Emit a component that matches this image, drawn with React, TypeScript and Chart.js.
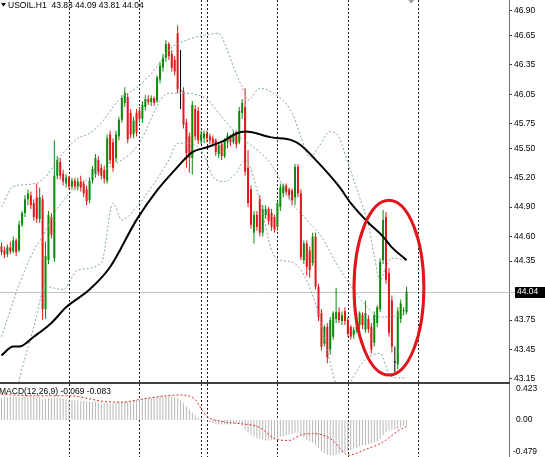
import React, { useEffect, useRef } from "react";
import { Chart, registerables } from "chart.js";

Chart.register(...registerables);

// ---------------- data ----------------
const symbol = "USOIL.H1";

const opens = [
  44.50, 44.46, 44.42, 44.49, 44.45, 44.56, 44.46, 44.72, 44.84, 44.98,
  45.02, 44.94, 45.00, 44.78, 44.98, 43.86, 44.36, 44.80, 44.38, 45.22,
  45.36, 45.24, 45.14, 45.20, 45.11, 45.17, 45.11, 45.16, 45.14, 45.08,
  44.97, 45.17, 45.24, 45.38, 45.30, 45.28, 45.17, 45.64, 45.56, 45.40,
  45.62, 45.79, 45.96, 46.02, 45.86, 45.64, 45.86, 45.88, 45.80, 45.92,
  46.00, 45.97, 46.01, 45.98, 46.20, 46.32, 46.42, 46.56, 46.46, 46.40,
  46.67, 46.08, 46.08, 45.76, 45.62, 45.40, 45.90, 45.88, 45.58, 45.60,
  45.65, 45.62, 45.60, 45.58, 45.44, 45.54, 45.42, 45.56, 45.62, 45.56,
  45.66, 45.56, 45.86, 45.92, 45.30, 45.08, 44.64, 44.82, 44.98, 44.64,
  44.82, 44.88, 44.84, 44.80, 44.70, 44.90, 45.04, 45.12, 45.08, 45.07,
  45.00, 45.31, 45.04, 44.36, 44.53, 44.46, 44.33, 44.60, 44.09, 43.82,
  43.51, 43.68, 43.45, 43.58, 43.76, 43.83, 43.74, 43.84, 43.75, 43.68,
  43.60, 43.65, 43.70, 43.80, 43.65, 43.76, 43.68, 43.52, 43.72, 43.86,
  44.36, 44.80, 44.23, 43.95, 43.32, 43.30, 43.76, 43.84, 43.83,
];
const highs = [
  44.54, 44.50, 44.52, 44.55, 44.60, 44.58, 44.76, 44.86, 45.02, 45.08,
  45.06, 44.98, 45.14, 45.10, 45.02, 44.55, 44.86, 44.84, 45.58, 45.42,
  45.40, 45.28, 45.24, 45.22, 45.20, 45.20, 45.20, 45.22, 45.17, 45.12,
  45.20, 45.32, 45.44, 45.42, 45.34, 45.32, 45.64, 45.68, 45.60, 45.68,
  45.82, 46.04, 46.12, 46.06, 45.90, 45.82, 45.90, 45.92, 45.98, 46.04,
  46.04, 46.04, 46.03, 46.24, 46.38, 46.46, 46.60, 46.58, 46.50, 46.44,
  46.75, 46.50, 46.12, 45.80, 45.66, 45.98, 45.94, 45.92, 45.68, 45.68,
  45.68, 45.65, 45.63, 45.60, 45.56, 45.56, 45.60, 45.66, 45.64, 45.68,
  45.68, 45.92, 46.00, 46.11, 45.48, 45.12, 44.86, 44.86, 45.02, 44.92,
  44.92, 44.90, 44.88, 44.82, 44.96, 45.14, 45.14, 45.14, 45.10, 45.09,
  45.34, 45.34, 45.08, 44.56, 44.56, 44.50, 44.64, 44.64, 44.12, 43.86,
  43.70, 43.72, 43.78, 43.84, 44.08, 43.88, 43.84, 43.88, 43.78, 43.70,
  43.68, 43.78, 43.84, 43.83, 43.95, 43.80, 43.72, 43.84, 43.90, 44.38,
  44.87, 44.85, 44.28, 44.00, 43.48, 43.88, 43.96, 43.88, 44.09,
];
const lows = [
  44.41, 44.38, 44.39, 44.42, 44.43, 44.40, 44.44, 44.70, 44.80, 44.92,
  44.88, 44.76, 44.74, 44.74, 43.75, 43.76, 44.32, 44.58, 44.34, 45.18,
  45.18, 45.12, 45.10, 45.08, 45.08, 45.08, 45.07, 45.06, 45.00, 44.92,
  44.94, 45.14, 45.20, 45.22, 45.18, 45.14, 45.14, 45.34, 45.26, 45.36,
  45.58, 45.76, 45.92, 45.55, 45.60, 45.60, 45.62, 45.76, 45.76, 45.88,
  45.94, 45.93, 45.93, 45.96, 46.16, 46.28, 46.38, 46.40, 46.28, 46.24,
  46.06, 45.90, 45.70, 45.30, 45.25, 45.23, 45.58, 45.54, 45.54, 45.55,
  45.56, 45.54, 45.52, 45.42, 45.40, 45.38, 45.40, 45.50, 45.52, 45.54,
  45.50, 45.54, 45.80, 45.22, 44.90, 44.68, 44.53, 44.66, 44.60, 44.60,
  44.78, 44.72, 44.66, 44.64, 44.66, 44.86, 45.00, 45.02, 44.98, 44.92,
  44.92, 45.00, 44.36, 44.32, 44.20, 44.18, 44.30, 44.06, 43.74, 43.44,
  43.48, 43.31, 43.40, 43.55, 43.72, 43.72, 43.70, 43.70, 43.58, 43.55,
  43.56, 43.62, 43.66, 43.66, 43.62, 43.62, 43.41, 43.48, 43.68, 43.83,
  44.32, 44.12, 43.58, 43.42, 43.22, 43.25, 43.72, 43.80, 43.81,
];
const closes = [
  44.44, 44.42, 44.49, 44.45, 44.56, 44.44, 44.72, 44.84, 44.98, 45.04,
  44.92, 44.80, 44.78, 45.00, 43.86, 44.40, 44.82, 44.62, 45.22, 45.38,
  45.22, 45.16, 45.20, 45.11, 45.17, 45.11, 45.16, 45.10, 45.04, 44.96,
  45.17, 45.29, 45.40, 45.26, 45.22, 45.19, 45.60, 45.38, 45.30, 45.64,
  45.79, 46.01, 46.06, 45.59, 45.64, 45.78, 45.66, 45.80, 45.94, 46.00,
  45.97, 46.01, 45.96, 46.22, 46.34, 46.42, 46.56, 46.44, 46.32, 46.28,
  46.10, 46.08, 45.74, 45.45, 45.40, 45.94, 45.62, 45.58, 45.64, 45.65,
  45.60, 45.58, 45.55, 45.46, 45.53, 45.42, 45.58, 45.63, 45.56, 45.65,
  45.54, 45.88, 45.96, 45.26, 44.94, 44.72, 44.82, 44.70, 44.64, 44.88,
  44.88, 44.76, 44.70, 44.67, 44.94, 45.10, 45.12, 45.05, 45.02, 44.97,
  45.31, 45.04, 44.39, 44.53, 44.29, 44.26, 44.60, 44.09, 43.78, 43.48,
  43.68, 43.37, 43.75, 43.82, 43.83, 43.75, 43.80, 43.74, 43.61, 43.58,
  43.65, 43.75, 43.82, 43.70, 43.82, 43.66, 43.45, 43.80, 43.88, 44.34,
  44.77, 44.16, 43.62, 43.48, 43.32, 43.84, 43.92, 43.85, 44.04,
];

// moving average (thick black line), sampled at bar indices
const maBars = [0, 4, 6, 11, 17, 22, 30, 37, 46, 53, 60, 65, 70, 76, 80, 83, 92, 99, 102, 108, 115, 119, 125, 130, 133, 138];
const maValues = [43.39, 43.48, 43.48, 43.58, 43.72, 43.88, 44.06, 44.29, 44.77, 45.07, 45.31, 45.46, 45.51, 45.58, 45.65, 45.67, 45.61, 45.58, 45.53, 45.35, 45.11, 44.94, 44.74, 44.6, 44.49, 44.36];

// Bollinger bands (dashed lines)
const bbUpperBars = [0, 4, 9, 14, 21, 26, 30, 34, 40, 47, 53, 57, 63, 69, 74, 76, 79, 82, 84, 88, 92, 99, 102, 105, 108, 112, 115, 118, 122, 125, 127, 129, 131, 133, 138];
const bbUpperValues = [44.9, 45.11, 45.13, 45.18, 45.45, 45.6, 45.65, 45.76, 45.99, 46.14, 46.33, 46.5, 46.6, 46.65, 46.67, 46.57, 46.33, 46.12, 45.99, 46.11, 46.07, 45.86, 45.61, 45.41, 45.51, 45.67, 45.61, 45.35, 45.0, 44.72, 44.4, 44.15, 44.3, 44.38, 44.36];
const bbMidBars = [0, 6, 11, 14, 18, 22, 29, 37, 46, 57, 60, 69, 75, 80, 92, 99, 103, 109, 114, 119, 124, 129, 134, 138];
const bbMidValues = [43.58, 44.11, 44.46, 44.6, 44.84, 45.0, 45.18, 45.31, 45.51, 46.06, 46.06, 46.02, 45.82, 45.65, 45.33, 44.94, 44.8, 44.6, 44.33, 44.1, 43.9, 43.78, 43.79, 43.82];
const bbLowerBars = [0, 6, 11, 15, 21, 26, 34, 38, 41, 46, 57, 60, 64, 69, 72, 76, 80, 83, 88, 92, 95, 99, 103, 108, 112, 114, 116, 120, 124, 129, 132, 135, 138];
const bbLowerValues = [42.4, 43.14, 43.68, 44.09, 44.06, 44.26, 44.33, 44.94, 44.77, 44.9, 45.38, 45.55, 45.55, 45.43, 45.21, 45.16, 45.25, 45.38, 44.97, 44.46, 44.36, 44.34, 44.21, 43.82, 43.31, 43.09, 42.95, 43.18, 43.35, 43.41, 43.2, 43.16, 43.16];

// MACD histogram (one value per bar) and signal line
const macdValues = [
  0.29, 0.30, 0.30, 0.31, 0.31, 0.30, 0.30, 0.31, 0.31, 0.32,
  0.32, 0.31, 0.31, 0.30, 0.27, 0.28, 0.29, 0.29, 0.30, 0.30,
  0.29, 0.28, 0.27, 0.27, 0.26, 0.26, 0.26, 0.25, 0.25, 0.24,
  0.24, 0.24, 0.24, 0.23, 0.23, 0.22, 0.23, 0.22, 0.22, 0.23,
  0.24, 0.24, 0.25, 0.24, 0.24, 0.25, 0.26, 0.27, 0.28, 0.29,
  0.29, 0.29, 0.30, 0.30, 0.31, 0.31, 0.32, 0.32, 0.31, 0.30,
  0.29, 0.26, 0.22, 0.18, 0.14, 0.10, 0.07, 0.04, 0.02, -0.01,
  -0.02, -0.03, -0.04, -0.05, -0.06, -0.06, -0.06, -0.06, -0.06, -0.05,
  -0.05, -0.05, -0.08, -0.13, -0.17, -0.20, -0.22, -0.24, -0.25, -0.26,
  -0.27, -0.27, -0.27, -0.26, -0.24, -0.22, -0.21, -0.20, -0.19, -0.18,
  -0.17, -0.17, -0.20, -0.23, -0.26, -0.28, -0.30, -0.33, -0.37, -0.41,
  -0.44, -0.46, -0.47, -0.47, -0.46, -0.45, -0.44, -0.43, -0.42, -0.40,
  -0.38, -0.37, -0.35, -0.34, -0.33, -0.32, -0.31, -0.30, -0.28, -0.25,
  -0.20, -0.16, -0.14, -0.13, -0.13, -0.12, -0.10, -0.08, -0.069,
];
const signalBars = [0, 11, 23, 35, 41, 47, 56, 61, 66, 68, 70, 76, 82, 88, 93, 98, 102, 106, 112, 117, 118, 124, 130, 135, 138];
const signalValues = [0.34, 0.32, 0.32, 0.245, 0.235, 0.27, 0.32, 0.33, 0.27, 0.15, 0.05, -0.025, -0.05, -0.1, -0.245, -0.27, -0.196, -0.18, -0.245, -0.44, -0.465, -0.39, -0.29, -0.147, -0.083];
const macdName = "MACD(12,26,9)";

// axis ticks and markers
const priceTicks = [46.9, 46.65, 46.35, 46.05, 45.75, 45.5, 45.2, 44.9, 44.6, 44.35, 43.75, 43.45, 43.15];
const macdTicks = [0.423, 0, -0.479];
const separatorBars = [23, 47, 68, 70, 94, 118, 142];
const highlight = { bar: 132, price: 44.08, barRadius: 11.9, priceRadius: 0.89 };
const shiftMarkerBar = 139.6;

// ---------------- layout / style ----------------
const W = 545;
const MAIN_H = 384;
const MACD_H = 73;
const AXIS_W = 36;
const X_MIN = -0.511;
const X_MAX = 172.9;
const P_MIN = 43.0987;
const P_MAX = 47.009;
const M_MIN = -0.4888;
const M_MAX = 0.4756;
const FONT = '"Liberation Sans", Arial, sans-serif';
const FONT_SIZE = 8.5;
const BULL = "#0b8a0b";
const BEAR = "#e3161b";
const DOJI = "#000000";
const BAND = "#7fa89c";

const idx = opens.map((_, i) => i);
const candleColor = (i: number) => (closes[i] > opens[i] ? BULL : closes[i] < opens[i] ? BEAR : DOJI);
const pts = (bars: number[], vals: number[]) => bars.map((b, k) => ({ x: b, y: vals[k] }));

const fitAxis = (scale: any) => {
  scale.width = AXIS_W;
  scale.paddingTop = 0;
  scale.paddingBottom = 0;
};

const drawSeparators = (chart: any) => {
  const { ctx, chartArea: a, scales } = chart;
  ctx.save();
  ctx.strokeStyle = "#222";
  ctx.lineWidth = 1;
  ctx.setLineDash([2, 2]);
  separatorBars.forEach((b) => {
    const px = Math.round(scales.x.getPixelForValue(b)) + 0.5;
    if (px > a.right) return;
    ctx.beginPath();
    ctx.moveTo(px, a.top);
    ctx.lineTo(px, a.bottom);
    ctx.stroke();
  });
  ctx.restore();
};

const mainDecor = {
  id: "mainDecor",
  beforeDatasetsDraw(chart: any) {
    const { ctx, chartArea: a, scales } = chart;
    const n = closes.length - 1;
    ctx.save();
    const py = Math.round(scales.y.getPixelForValue(closes[n])) + 0.5;
    ctx.strokeStyle = "#c4c4c4";
    ctx.lineWidth = 1;
    ctx.beginPath();
    ctx.moveTo(a.left, py);
    ctx.lineTo(a.right + 6, py);
    ctx.stroke();
    ctx.restore();
    drawSeparators(chart);
  },
  afterDraw(chart: any) {
    const { ctx, chartArea: a, scales } = chart;
    const { x, y } = scales;
    const n = closes.length - 1;
    ctx.save();
    // highlight ellipse
    const cx = x.getPixelForValue(highlight.bar);
    const cy = y.getPixelForValue(highlight.price);
    const rx = x.getPixelForValue(highlight.bar + highlight.barRadius) - cx;
    const ry = y.getPixelForValue(highlight.price - highlight.priceRadius) - cy;
    ctx.strokeStyle = "#e0161c";
    ctx.lineWidth = 3;
    ctx.beginPath();
    ctx.ellipse(cx, cy, rx, ry, 0, 0, Math.PI * 2);
    ctx.stroke();
    // title
    ctx.fillStyle = "#000";
    ctx.beginPath();
    ctx.moveTo(1, 3);
    ctx.lineTo(6, 3);
    ctx.lineTo(3.5, 6.5);
    ctx.closePath();
    ctx.fill();
    ctx.font = `${FONT_SIZE}px ${FONT}`;
    ctx.textBaseline = "middle";
    ctx.textAlign = "left";
    const f = (v: number) => v.toFixed(2);
    ctx.fillText(`${symbol}  ${f(opens[n])} ${f(highs[n])} ${f(lows[n])} ${f(closes[n])}`, 8, 5.5);
    // current price label
    const py = y.getPixelForValue(closes[n]);
    ctx.fillStyle = "#000";
    ctx.fillRect(a.right + 6, Math.round(py) - 5, W - a.right - 6, 11);
    ctx.fillStyle = "#fff";
    ctx.fillText(f(closes[n]), a.right + 8, py + 0.5);
    // shift marker
    const sx = x.getPixelForValue(shiftMarkerBar);
    ctx.fillStyle = "#9a9a9a";
    ctx.beginPath();
    ctx.moveTo(sx - 3, 0);
    ctx.lineTo(sx + 3, 0);
    ctx.lineTo(sx, 3.5);
    ctx.closePath();
    ctx.fill();
    // window separator
    ctx.fillStyle = "#404040";
    ctx.fillRect(0, MAIN_H - 2, a.right + 1, 2);
    ctx.restore();
  },
};

const macdDecor = {
  id: "macdDecor",
  beforeDatasetsDraw(chart: any) {
    drawSeparators(chart);
  },
  afterDraw(chart: any) {
    const { ctx, chartArea: a, scales } = chart;
    const y = scales.y;
    ctx.save();
    ctx.font = `${FONT_SIZE}px ${FONT}`;
    ctx.textBaseline = "middle";
    ctx.textAlign = "left";
    ctx.fillStyle = "#000";
    const m = macdValues[macdValues.length - 1];
    const s = signalValues[signalValues.length - 1];
    ctx.fillText(`${macdName} ${m.toFixed(3)} ${s.toFixed(3)}`, -1, 8);
    macdTicks.forEach((v) => {
      const py = Math.min(Math.max(y.getPixelForValue(v), 5), MACD_H - 5);
      const txt = v === 0 ? "0.00" : v.toFixed(3);
      ctx.fillText(txt, v < 0 ? a.right + 4 : a.right + 7, py);
    });
    ctx.restore();
  },
};

const baseOptions = {
  responsive: false,
  animation: false as const,
  devicePixelRatio: 1,
  events: [] as any[],
  layout: { padding: 0 },
  plugins: { legend: { display: false }, tooltip: { enabled: false }, title: { display: false } },
};

export default function App() {
  const mainRef = useRef<HTMLCanvasElement>(null);
  const macdRef = useRef<HTMLCanvasElement>(null);

  useEffect(() => {
    document.body.style.margin = "0";
    Chart.defaults.font.family = FONT;

    const lineBase = { type: "line" as const, pointRadius: 0, cubicInterpolationMode: "monotone" as const };

    const main = new Chart(mainRef.current as HTMLCanvasElement, {
      type: "bar",
      data: {
        datasets: [
          { ...lineBase, data: pts(maBars, maValues), borderColor: "#000", borderWidth: 2, order: 0 },
          { ...lineBase, data: pts(bbUpperBars, bbUpperValues), borderColor: BAND, borderWidth: 1, borderDash: [2, 2], order: 1 },
          { ...lineBase, data: pts(bbMidBars, bbMidValues), borderColor: BAND, borderWidth: 1, borderDash: [2, 2], order: 1 },
          { ...lineBase, data: pts(bbLowerBars, bbLowerValues), borderColor: BAND, borderWidth: 1, borderDash: [2, 2], order: 1 },
          {
            type: "bar",
            data: idx.map((i) => ({ x: i, y: [opens[i], closes[i]] })),
            backgroundColor: idx.map(candleColor),
            barThickness: 2,
            grouped: false,
            minBarLength: 1,
            inflateAmount: 0,
            borderWidth: 0,
            order: 2,
          },
          {
            type: "bar",
            data: idx.map((i) => ({ x: i, y: [lows[i], highs[i]] })),
            backgroundColor: idx.map(candleColor),
            barThickness: 1,
            grouped: false,
            inflateAmount: 0,
            borderWidth: 0,
            order: 3,
          },
        ] as any,
      },
      options: {
        ...baseOptions,
        scales: {
          x: { type: "linear", min: X_MIN, max: X_MAX, display: false, offset: false, grid: { display: false } },
          y: {
            type: "linear",
            position: "right",
            min: P_MIN,
            max: P_MAX,
            bounds: "data",
            afterFit: fitAxis,
            afterBuildTicks: (s: any) => {
              s.ticks = priceTicks.map((v) => ({ value: v }));
            },
            ticks: {
              callback: (v: any) => Number(v).toFixed(2),
              font: { family: FONT, size: FONT_SIZE },
              color: "#000",
              padding: 2,
              autoSkip: false,
            },
            grid: { display: true, drawOnChartArea: false, drawTicks: true, tickLength: 3, color: "#333" },
            border: { display: true, color: "#707070", width: 1 },
          },
        },
      } as any,
      plugins: [mainDecor],
    });

    const macd = new Chart(macdRef.current as HTMLCanvasElement, {
      type: "bar",
      data: {
        datasets: [
          { ...lineBase, data: pts(signalBars, signalValues), borderColor: "#e02828", borderWidth: 1, borderDash: [2, 2], order: 0 },
          {
            type: "bar",
            data: idx.map((i) => ({ x: i, y: macdValues[i] })),
            backgroundColor: "#b8b8b8",
            barThickness: 1,
            grouped: false,
            inflateAmount: 0,
            borderWidth: 0,
            order: 1,
          },
        ] as any,
      },
      options: {
        ...baseOptions,
        scales: {
          x: { type: "linear", min: X_MIN, max: X_MAX, display: false, offset: false, grid: { display: false } },
          y: {
            type: "linear",
            position: "right",
            min: M_MIN,
            max: M_MAX,
            bounds: "data",
            afterFit: fitAxis,
            ticks: { display: false },
            grid: { display: false },
            border: { display: true, color: "#707070", width: 1 },
          },
        },
      } as any,
      plugins: [macdDecor],
    });

    return () => {
      main.destroy();
      macd.destroy();
    };
  }, []);

  return (
    <div style={{ position: "fixed", left: 0, top: 0, width: W, height: MAIN_H + MACD_H, background: "#fff", overflow: "hidden" }}>
      <canvas ref={mainRef} width={W} height={MAIN_H} style={{ position: "absolute", left: 0, top: 0, width: W, height: MAIN_H }} />
      <canvas ref={macdRef} width={W} height={MACD_H} style={{ position: "absolute", left: 0, top: MAIN_H, width: W, height: MACD_H }} />
    </div>
  );
}
